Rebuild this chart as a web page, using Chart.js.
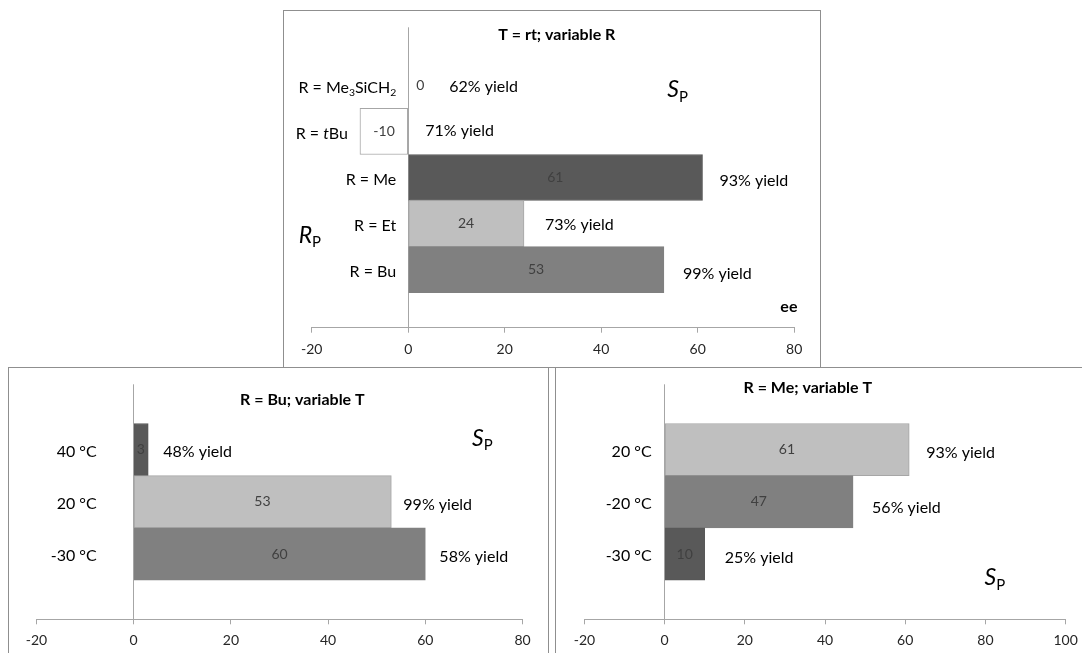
<!DOCTYPE html>
<html>
<head>
<meta charset="utf-8">
<script src="https://cdn.jsdelivr.net/npm/chart.js@4.4.1/dist/chart.umd.min.js"></script>
<style>
  body { margin: 0; background: #fff; }
  #page { position: relative; width: 1082px; height: 653px; overflow: hidden; }
  .panel { position: absolute; border: 1.5px solid #8f8f8f; box-sizing: border-box; }
  canvas { position: absolute; left: 0; top: 0; }
</style>
</head>
<body>
<div id="page">
  <div class="panel" style="left:283px;top:10px;width:538px;height:358px"></div>
  <div class="panel" style="left:8px;top:367px;width:541px;height:300px"></div>
  <div class="panel" style="left:555px;top:367px;width:600px;height:300px"></div>
  <canvas id="rtChart" width="1082" height="653"></canvas>
  <canvas id="buChart" width="1082" height="653"></canvas>
  <canvas id="meChart" width="1082" height="653"></canvas>
</div>
<script>
/* T = rt; variable R */
const rtLabels = ['R = Me_{3}SiCH_{2}', 'R = *t*Bu', 'R = Me', 'R = Et', 'R = Bu'];
const rtEe = [0, -10, 61, 24, 53];
const rtYield = [62, 71, 93, 73, 99];

/* R = Bu; variable T */
const buLabels = ['40 °C', '20 °C', '-30 °C'];
const buEe = [3, 53, 60];
const buYield = [48, 99, 58];

/* R = Me; variable T */
const meLabels = ['20 °C', '-20 °C', '-30 °C'];
const meEe = [61, 47, 10];
const meYield = [93, 56, 25];

/* ee axis ticks */
const eeMin = -20;
const eeStep = 20;
const rtEeMax = 80;
const buEeMax = 80;
const meEeMax = 100;

const DARK = '#595959', MID = '#808080', LIGHT = '#bfbfbf';
const AXIS_H = 35;
const PAGE_W = 1082, PAGE_H = 653;

Chart.defaults.font.family = 'Lato, "Open Sans", sans-serif';

function parseRich(s) {
	const parts = [];
	const re = /_\{([^}]*)\}|\*([^*]*)\*|([^_*]+)/g;
	let m;
	while ((m = re.exec(s))) {
		if (m[1] !== undefined) parts.push({ t: m[1], sub: true });
		else if (m[2] !== undefined) parts.push({ t: m[2], it: true });
		else parts.push({ t: m[3] });
	}
	return parts;
}

function drawRich(ctx, s, x, y, o) {
	const size = o.size || 16;
	const parts = parseRich(s);
	const fontOf = (p) => {
		const sz = p.sub ? size * 0.65 : size;
		return `${p.it ? 'italic ' : ''}${o.bold ? 'bold ' : ''}${sz}px Lato, "Open Sans", sans-serif`;
	};
	ctx.save();
	ctx.textBaseline = 'middle';
	ctx.textAlign = 'left';
	ctx.fillStyle = o.color || '#000';
	let total = 0;
	parts.forEach((p) => { ctx.font = fontOf(p); p.w = ctx.measureText(p.t).width; total += p.w; });
	let cx = x;
	if (o.align === 'right') cx = x - total;
	if (o.align === 'center') cx = x - total / 2;
	parts.forEach((p) => {
		ctx.font = fontOf(p);
		ctx.fillText(p.t, cx, p.sub ? y + size * 0.32 : y);
		cx += p.w;
	});
	ctx.restore();
}

function textPlugin(cfg) {
	return {
		id: 'texts',
		afterDatasetsDraw(chart) {
			const xs = chart.scales.x, ys = chart.scales.y, ctx = chart.ctx;
			const x0 = xs.getPixelForValue(0);
			cfg.ee.forEach((v, i) => {
				const y = ys.getPixelForValue(i);
				const x1 = xs.getPixelForValue(v);
				const vx = v === 0 ? x0 + 12 : (x0 + x1) / 2;
				drawRich(ctx, String(v), vx, y, { size: 14, color: '#404040', align: 'center' });
				drawRich(ctx, cfg.labels[i], Math.min(x0, x1) - cfg.labelGap, y + 2, { size: 16, align: 'right' });
				drawRich(ctx, cfg.yields[i] + '% yield', Math.max(x0, x1) + cfg.yieldGap[i], y + cfg.yieldDy[i], { size: 16, align: 'left' });
			});
			cfg.notes.forEach((n) => {
				drawRich(ctx, n.text, xs.getPixelForValue(n.x), ys.getPixelForValue(n.y), n);
			});
		}
	};
}

function makeChart(id, cfg) {
	const a = cfg.area;
	return new Chart(document.getElementById(id), {
		type: 'bar',
		data: {
			datasets: [{
				data: cfg.ee.map((v, i) => ({ x: v, y: i })),
				backgroundColor: cfg.colors,
				borderColor: cfg.borders,
				borderWidth: 1,
				borderSkipped: false,
				barPercentage: 1,
				categoryPercentage: 1
			}]
		},
		options: {
			indexAxis: 'y',
			responsive: false,
			animation: false,
			events: [],
			layout: { padding: { left: a.l, right: PAGE_W - a.r, top: a.t, bottom: PAGE_H - a.b - AXIS_H } },
			plugins: { legend: { display: false }, tooltip: { enabled: false } },
			scales: {
				x: {
					type: 'linear',
					min: eeMin,
					max: cfg.xMax,
					ticks: { stepSize: eeStep, font: { size: 14 }, color: '#262626', padding: 8 },
					grid: {
						color: (c) => (c.tick && c.tick.value === 0 ? '#a6a6a6' : 'rgba(0,0,0,0)'),
						tickColor: '#a6a6a6',
						tickLength: 5
					},
					border: { color: '#a6a6a6', width: 1 },
					afterFit: (s) => {
						s.height = AXIS_H;
						s.paddingLeft = 0; s.paddingRight = 0; s.paddingTop = 0; s.paddingBottom = 0;
					}
				},
				y: {
					type: 'linear',
					bounds: 'data',
					offset: false,
					grid: { offset: false },
					min: cfg.yMin,
					max: cfg.yMax,
					reverse: true,
					display: false,
					ticks: { stepSize: 1, precision: 0, includeBounds: false }
				}
			}
		},
		plugins: [textPlugin(cfg)]
	});
}

window.addEventListener('DOMContentLoaded', () => {
	makeChart('rtChart', {
		labels: rtLabels, ee: rtEe, yields: rtYield, xMax: rtEeMax,
		colors: ['rgba(0,0,0,0)', '#ffffff', DARK, LIGHT, MID],
		borders: ['rgba(0,0,0,0)', '#a6a6a6', DARK, '#a6a6a6', MID],
		area: { l: 311.7, r: 794.2, t: 27.3, b: 327.7 },
		yMin: -1.26, yMax: 5.26,
		labelGap: 12,
		yieldGap: [41, 17, 17, 21, 19],
		yieldDy: [1, -1, 3, 1, 4],
		notes: [
			{ text: 'T = rt; variable R', x: 30.8, y: -1.09, size: 16, bold: true, align: 'center' },
			{ text: '*S*_{P}', x: 53.7, y: 0.1, size: 23, align: 'left' },
			{ text: '*R*_{P}', x: -22.7, y: 3.25, size: 23, align: 'left' },
			{ text: 'ee', x: 78.9, y: 4.8, size: 16, bold: true, align: 'center' }
		]
	});
	makeChart('buChart', {
		labels: buLabels, ee: buEe, yields: buYield, xMax: buEeMax,
		colors: [DARK, LIGHT, MID],
		borders: [DARK, '#a6a6a6', MID],
		area: { l: 36.4, r: 522.6, t: 384.3, b: 619.3 },
		yMin: -1.25, yMax: 3.25,
		labelGap: 37,
		yieldGap: [15, 12, 14],
		yieldDy: [2, 3, 3],
		notes: [
			{ text: 'R = Bu; variable T', x: 34.7, y: -0.95, size: 16, bold: true, align: 'center' },
			{ text: '*S*_{P}', x: 69.6, y: -0.22, size: 23, align: 'left' }
		]
	});
	makeChart('meChart', {
		labels: meLabels, ee: meEe, yields: meYield, xMax: meEeMax,
		colors: [LIGHT, MID, DARK],
		borders: ['#a6a6a6', MID, DARK],
		area: { l: 584.4, r: 1065.6, t: 384.3, b: 619.3 },
		yMin: -1.25, yMax: 3.25,
		labelGap: 13,
		yieldGap: [17, 19, 20],
		yieldDy: [3, 6, 4],
		notes: [
			{ text: 'R = Me; variable T', x: 35.7, y: -1.18, size: 16, bold: true, align: 'center' },
			{ text: '*S*_{P}', x: 79.8, y: 2.46, size: 23, align: 'left' }
		]
	});
});
</script>
</body>
</html>
